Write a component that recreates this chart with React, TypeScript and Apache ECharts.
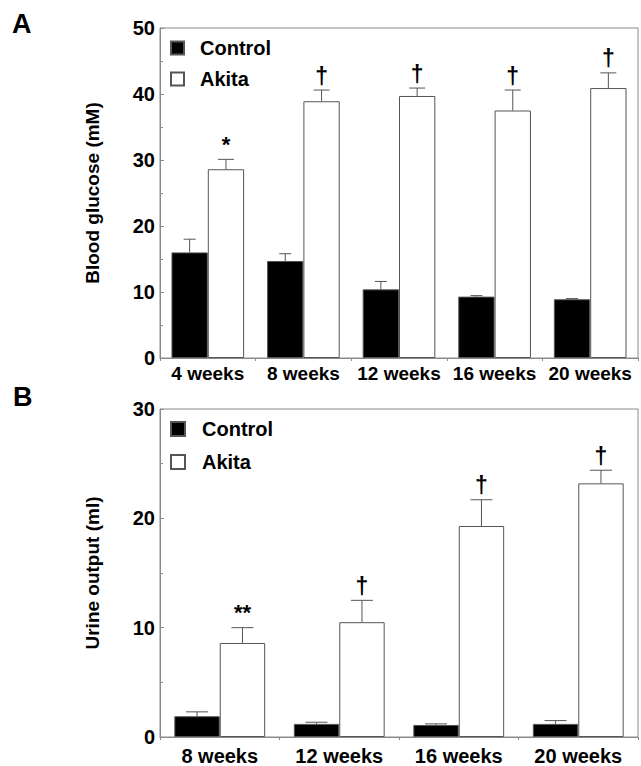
import React, { useEffect, useRef } from "react";
import * as echarts from "echarts";

const categoriesA = ["4 weeks", "8 weeks", "12 weeks", "16 weeks", "20 weeks"];
const controlA = [16.0, 14.7, 10.4, 9.3, 8.9];
const controlAErr = [2.0, 1.1, 1.2, 0.15, 0.1];
const akitaA = [28.6, 38.9, 39.7, 37.5, 40.9];
const akitaAErr = [1.5, 1.7, 1.2, 3.1, 2.3];
const sigA = ["*", "†", "†", "†", "†"];

const categoriesB = ["8 weeks", "12 weeks", "16 weeks", "20 weeks"];
const controlB = [1.9, 1.2, 1.1, 1.2];
const controlBErr = [0.4, 0.15, 0.1, 0.3];
const akitaB = [8.6, 10.5, 19.3, 23.2];
const akitaBErr = [1.4, 2.0, 2.4, 1.2];
const sigB = ["**", "†", "†", "†"];

const yTicksA = { min: 0, max: 50, interval: 10 };
const yTicksB = { min: 0, max: 30, interval: 10 };

const FONT = "Liberation Sans, Arial, Helvetica, sans-serif";
const EDGE = "#555";
const AXIS = "#8a8a8a";
const BARFRAC = 0.38;

function errSeries(
  name: string,
  grid: number,
  vals: number[],
  errs: number[],
  side: number,
  capW: number,
  sig: string[] | null
) {
  return {
    type: "custom",
    name: name,
    xAxisIndex: grid,
    yAxisIndex: grid,
    z: 5,
    silent: true,
    encode: { x: 0, y: 1 },
    data: vals.map((v, i) => [i, v, v + errs[i]]),
    renderItem: (params: any, api: any) => {
      const c = api.value(0);
      const v = api.value(1);
      const e = api.value(2);
      const band = api.size([1, 0])[0];
      const off = (side * band * BARFRAC) / 2;
      const p0 = api.coord([c, v]);
      const p1 = api.coord([c, e]);
      const x = p0[0] + off;
      const children: any[] = [
        {
          type: "line",
          shape: { x1: x, y1: p0[1], x2: x, y2: p1[1] },
          style: { stroke: EDGE, lineWidth: 1 },
        },
        {
          type: "line",
          shape: { x1: x - capW / 2, y1: p1[1], x2: x + capW / 2, y2: p1[1] },
          style: { stroke: EDGE, lineWidth: 1 },
        },
      ];
      if (sig) {
        const s = sig[params.dataIndex];
        const isStar = s.indexOf("*") >= 0;
        children.push({
          type: "text",
          x: x,
          y: isStar ? p1[1] - 4 : p1[1] - 3,
          style: {
            text: s,
            fill: "#000",
            font: isStar ? `bold 22px ${FONT}` : `bold 23px ${FONT}`,
            textAlign: "center",
            textVerticalAlign: "bottom",
          },
        });
      }
      return { type: "group", children };
    },
  };
}

export default function App() {
  const ref = useRef<HTMLDivElement>(null);
  useEffect(() => {
    if (!ref.current) return;
    const chart = echarts.init(ref.current, undefined, { renderer: "svg" });
    const barStyleCtrl = { color: "#000", borderColor: EDGE, borderWidth: 1 };
    const barStyleAkita = { color: "#fff", borderColor: EDGE, borderWidth: 1 };
    const yAxisBase = (t: any, name: string, fs: number) => ({
      type: "value",
      min: t.min,
      max: t.max,
      interval: t.interval,
      name: name,
      nameLocation: "middle",
      nameGap: 58,
      nameRotate: 90,
      nameTextStyle: { fontFamily: FONT, fontWeight: "bold", fontSize: fs, color: "#000" },
      axisLine: { show: true, lineStyle: { color: AXIS, width: 1 } },
      axisTick: { show: true, inside: true, length: 4, lineStyle: { color: AXIS } },
      minorTick: { show: true, splitNumber: 2, length: 3, lineStyle: { color: AXIS } },
      splitLine: { show: false },
      axisLabel: { fontFamily: FONT, fontWeight: "bold", fontSize: 20, color: "#000", margin: 5 },
    });
    const xAxisBase = (cats: string[], fs: number, margin: number) => ({
      type: "category",
      data: cats,
      axisLine: { show: true, lineStyle: { color: AXIS, width: 1 } },
      axisTick: { show: true, length: 3, interval: 0, lineStyle: { color: AXIS } },
      axisLabel: { fontFamily: FONT, fontWeight: "bold", fontSize: fs, color: "#000", margin: margin, interval: 0 },
    });
    chart.setOption({
      animation: false,
      backgroundColor: "#fff",
      grid: [
        { left: 160, top: 28, width: 478, height: 330, show: true, borderColor: AXIS, borderWidth: 1 },
        { left: 160, top: 409, width: 478, height: 331, show: true, borderColor: AXIS, borderWidth: 1 },
      ],
      legend: [
        {
          orient: "vertical",
          left: 170,
          top: 38,
          padding: 0,
          itemWidth: 13,
          itemHeight: 13,
          itemGap: 11,
          icon: "rect",
          data: ["Control", "Akita"],
          textStyle: { fontFamily: FONT, fontWeight: "bold", fontSize: 20, color: "#000", padding: [0, 0, 0, 11] },
        },
        {
          orient: "vertical",
          left: 170,
          top: 419,
          padding: 0,
          itemWidth: 14,
          itemHeight: 14,
          itemGap: 13,
          icon: "rect",
          data: ["Control", "Akita"],
          textStyle: { fontFamily: FONT, fontWeight: "bold", fontSize: 20, color: "#000", padding: [0, 0, 0, 12] },
        },
      ],
      xAxis: [
        { ...xAxisBase(categoriesA, 19, 6), gridIndex: 0 },
        { ...xAxisBase(categoriesB, 20, 9), gridIndex: 1 },
      ],
      yAxis: [
        { ...yAxisBase(yTicksA, "Blood glucose (mM)", 19), gridIndex: 0 },
        { ...yAxisBase(yTicksB, "Urine output (ml)", 19), gridIndex: 1 },
      ],
      graphic: [
        { type: "text", left: 12, top: 10, style: { text: "A", font: `bold 27px ${FONT}`, fill: "#000" } },
        { type: "text", left: 13, top: 383, style: { text: "B", font: `bold 27px ${FONT}`, fill: "#000" } },
      ],
      series: [
        { type: "bar", name: "Control", xAxisIndex: 0, yAxisIndex: 0, data: controlA, barWidth: "38%", barGap: "0%", itemStyle: barStyleCtrl },
        { type: "bar", name: "Akita", xAxisIndex: 0, yAxisIndex: 0, data: akitaA, barWidth: "38%", barGap: "0%", itemStyle: barStyleAkita },
        { type: "bar", name: "Control", xAxisIndex: 1, yAxisIndex: 1, data: controlB, barWidth: "38%", barGap: "0%", itemStyle: barStyleCtrl },
        { type: "bar", name: "Akita", xAxisIndex: 1, yAxisIndex: 1, data: akitaB, barWidth: "38%", barGap: "0%", itemStyle: barStyleAkita },
        errSeries("errCA", 0, controlA, controlAErr, -1, 12, null),
        errSeries("errAA", 0, akitaA, akitaAErr, 1, 16, sigA),
        errSeries("errCB", 1, controlB, controlBErr, -1, 22, null),
        errSeries("errAB", 1, akitaB, akitaBErr, 1, 22, sigB),
      ],
    });
    return () => chart.dispose();
  }, []);
  return (
    <div
      ref={ref}
      style={{ position: "absolute", left: 0, top: 0, width: 641, height: 766, background: "#fff" }}
    />
  );
}
